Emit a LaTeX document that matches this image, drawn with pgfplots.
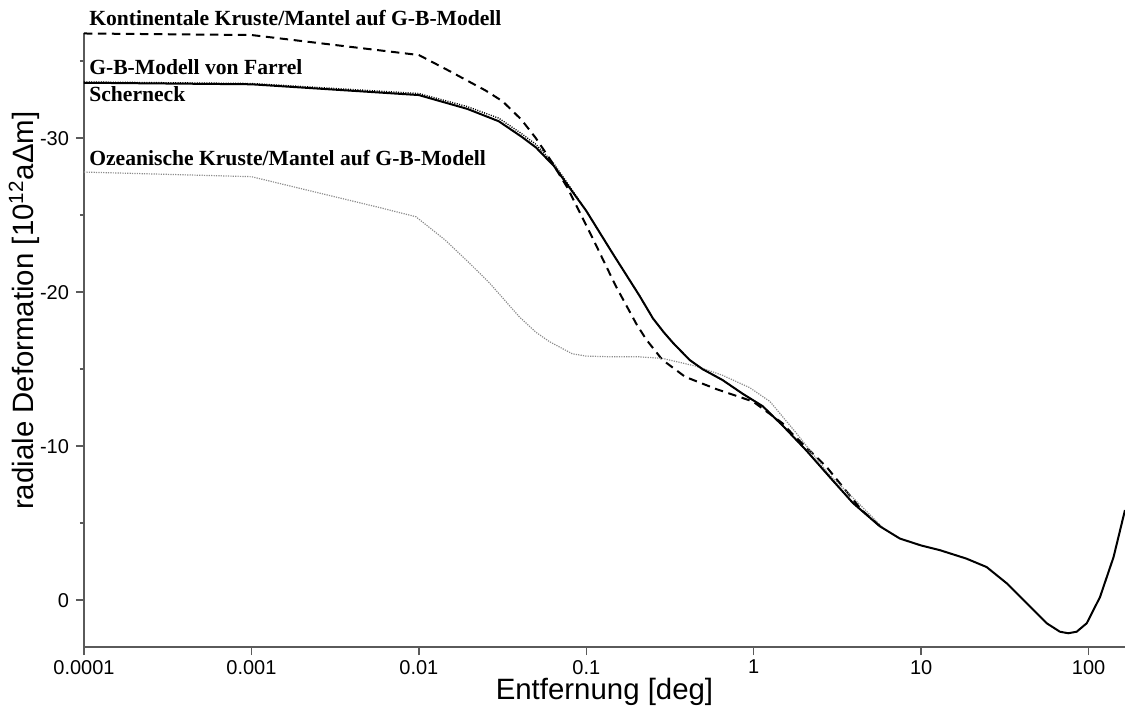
\documentclass[border=0pt]{standalone}
\usepackage{fontspec}
\setmainfont{Liberation Sans}
\newfontfamily\annfont{Liberation Serif}
\usepackage{pgfplots}
\pgfplotsset{compat=1.18}
\definecolor{axgray}{RGB}{90,90,90}
\definecolor{dotgray}{RGB}{140,140,140}
\begin{document}
\begin{tikzpicture}
\begin{axis}[
  name=ax,
  width=520.5pt, height=307.2pt, scale only axis,
  xmode=log, xmin=1e-4, xmax=165,
  y dir=reverse, ymin=-36.85, ymax=3.05,
  axis x line*=bottom, axis y line*=left,
  axis line style={axgray, line width=0.7pt, -},
  tick style={axgray, line width=0.7pt},
  tick align=outside,
  major tick length=4pt, minor tick length=2pt,
  xtick={0.0001,0.001,0.01,0.1,1,10,100},
  xticklabels={0.0001,0.001,0.01,0.1,1,10,100},
  xminorticks=false,
  ytick={-30,-20,-10,0},
  yticklabels={-30,-20,-10,0},
  minor ytick={-35,-25,-15,-5},
  tick label style={font=\fontsize{10}{12}\selectfont},
  x tick label style={yshift=1pt},
  label style={font=\fontsize{14.7}{17}\selectfont},
  xlabel={Entfernung [deg]},
  ylabel={radiale Deformation [10\textsuperscript{12}aΔm]},
  x label style={at={(axis description cs:0.5,0)}, anchor=base, yshift=-26.3pt},
  y label style={at={(axis description cs:-0.0485,0.5475)}, anchor=base, rotate=0},
  clip=false,
]
% Kontinentale Kruste/Mantel (dashed)
\addplot[black, line width=1pt, dash pattern=on 4.2pt off 2.8pt] coordinates {
(0.0001,-36.8) (0.001,-36.7) (0.01,-35.4) (0.015,-34.4) (0.025,-33.1)
(0.0316,-32.4) (0.041,-31.2) (0.05,-30.0) (0.061,-28.6) (0.077,-26.8)
(0.107,-23.7) (0.15,-20.4) (0.2,-17.9) (0.229,-16.9) (0.285,-15.6)
(0.39,-14.5) (0.6,-13.7) (0.99,-12.9) (1.48,-11.5) (1.7,-10.8)
(2.72,-8.66) (4.42,-5.84) (5.7,-4.8)
};
% Ozeanische Kruste/Mantel (gray dotted)
\addplot[dotgray, line width=0.6pt, dash pattern=on 0.6pt off 0.6pt] coordinates {
(0.0001,-27.8) (0.001,-27.5) (0.0058,-25.5) (0.0096,-24.9) (0.0143,-23.4)
(0.02,-21.9) (0.0264,-20.6) (0.0301,-19.9) (0.0398,-18.4) (0.05,-17.4)
(0.06,-16.8) (0.0824,-16.0) (0.1,-15.85) (0.144,-15.8)
(0.207,-15.8) (0.285,-15.7) (0.45,-15.2) (0.652,-14.6) (0.946,-13.8)
(1.25,-12.9) (1.78,-10.9) (2.8,-8.2) (4.5,-6.0) (5.9,-4.7)
};
% G-B-Modell von Farrel (solid)
\addplot[black, line width=1pt] coordinates {
(0.0001,-33.6) (0.001,-33.5) (0.01,-32.8) (0.0195,-31.9) (0.03,-31.1)
(0.041,-30.1) (0.05,-29.4) (0.064,-28.2) (0.0757,-27.1) (0.0997,-25.3)
(0.144,-22.5) (0.207,-19.8) (0.25,-18.3) (0.29,-17.4) (0.33,-16.7) (0.414,-15.6)
(0.495,-15.0) (0.65,-14.3) (0.86,-13.4) (1.13,-12.6) (1.5,-11.3)
(2.07,-9.7) (2.84,-8.0) (3.92,-6.3) (5.66,-4.8) (7.46,-4.0)
(10,-3.55) (12.9,-3.25) (18.6,-2.7) (24.6,-2.15) (32.4,-1.1)
(42.7,0.2) (56.2,1.5) (67.4,2.05) (75.6,2.15) (84.9,2.05)
(97.5,1.5) (117,-0.2) (141,-2.8) (165,-5.85)
};
% Scherneck (black dotted, nearly coincident)
\addplot[black, line width=0.7pt, dash pattern=on 0.5pt off 0.7pt] coordinates {
(0.0001,-33.65) (0.001,-33.55) (0.01,-32.9) (0.0195,-32.05) (0.03,-31.3)
(0.041,-30.3) (0.05,-29.6) (0.064,-28.35) (0.0757,-27.2) (0.0997,-25.3)
(0.144,-22.5) (0.207,-19.8) (0.25,-18.3) (0.29,-17.4) (0.33,-16.7) (0.414,-15.6)
(0.495,-15.0) (0.65,-14.3) (0.86,-13.4) (1.13,-12.6) (1.5,-11.3)
(2.07,-9.7) (2.84,-8.0) (3.92,-6.3) (5.66,-4.8)
};
\node[anchor=base west, font=\fontsize{10.8}{12}\annfont\bfseries, inner sep=0pt] at (axis cs:1.07e-4,-37.34) {Kontinentale Kruste/Mantel auf G-B-Modell};
\node[anchor=base west, font=\fontsize{10.8}{12}\annfont\bfseries, inner sep=0pt] at (axis cs:1.07e-4,-34.16) {G-B-Modell von Farrel};
\node[anchor=base west, font=\fontsize{10.8}{12}\annfont\bfseries, inner sep=0pt] at (axis cs:1.07e-4,-32.36) {Scherneck};
\node[anchor=base west, font=\fontsize{10.8}{12}\annfont\bfseries, inner sep=0pt] at (axis cs:1.07e-4,-28.2) {Ozeanische Kruste/Mantel auf G-B-Modell};
\end{axis}
\pgfresetboundingbox
\path ([xshift=-42pt,yshift=-30.5pt]ax.south west) rectangle ([yshift=16.35pt]ax.north east);
\end{tikzpicture}
\end{document}
